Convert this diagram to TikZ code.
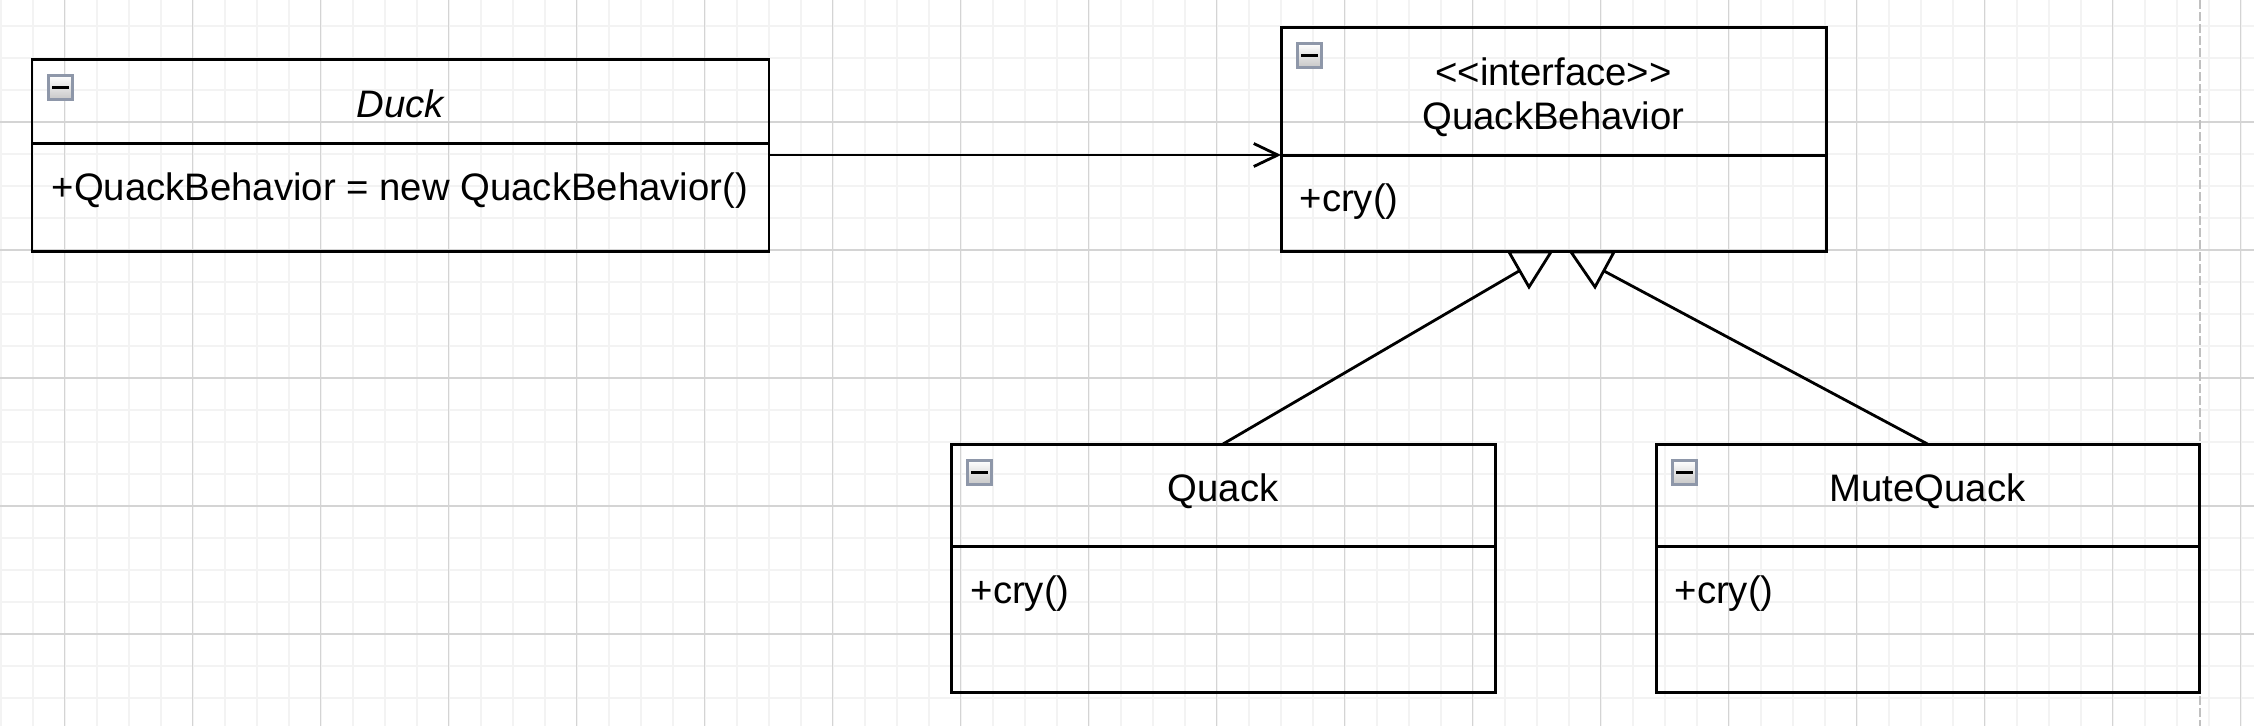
\documentclass[tikz,border=0pt]{standalone}
\usepackage{fontspec}
\setmainfont{Liberation Sans}
\usetikzlibrary{arrows.meta,calc}

\definecolor{gridminor}{HTML}{F3F3F3}
\definecolor{gridmajor}{HTML}{D4D4D4}
\definecolor{pagegray}{HTML}{C0C0C0}
\definecolor{foldgray}{HTML}{8E97A9}

\tikzset{
  minor/.style={draw=gridminor, line width=0.55pt},
  major/.style={draw=gridmajor, line width=0.35pt},
  page/.style={draw=pagegray, line width=0.55pt, dash pattern=on 0.85mm off 0.35mm},
  cls/.style={draw, line width=0.85pt, inner sep=0pt, outer sep=0pt},
  sep/.style={line width=0.85pt},
  title/.style={anchor=base, inner sep=0pt, font=\fontsize{10.9}{13}\selectfont},
  attr/.style={anchor=base west, inner sep=0pt, font=\fontsize{10.9}{13}\selectfont},
  fold/.style={draw=foldgray, line width=0.85pt, top color=white, bottom color=black!22,
    minimum size=2.4mm, inner sep=0pt},
  edge/.style={line width=0.8pt},
  assoc/.style={edge, -{Straight Barb[length=2.4mm, width=2.3mm]}},
  gen/.style={edge, fill=white, line join=miter}
}

\begin{document}
\begin{tikzpicture}[x=0.1mm, y=-0.1mm]
\useasboundingbox (0,0) rectangle (2254,726);

% canvas grid
\foreach \x in {0.7,32.7,...,2254} \draw[minor] (\x,0) -- (\x,726);
\foreach \y in {25.7,57.7,...,726} \draw[minor] (0,\y) -- (2254,\y);
\foreach \x in {64.7,192.7,...,2254} \draw[major] (\x,0) -- (\x,726);
\foreach \y in {122,250,...,726} \draw[major] (0,\y) -- (2254,\y);
\draw[page] (2200,0) -- (2200,726);

% classes
\node[cls, minimum width=73.7mm, minimum height=19.2mm] (duck) at (400.5,155) {};
\node[cls, minimum width=54.5mm, minimum height=22.4mm] (qb) at (1553.5,139) {};
\node[cls, minimum width=54.4mm, minimum height=24.8mm] (quack) at (1223,568) {};
\node[cls, minimum width=54.3mm, minimum height=24.8mm] (mute) at (1927.5,568) {};

\draw[sep] (duck.west |- 0,143) -- (duck.east |- 0,143);
\draw[sep] (qb.west |- 0,155) -- (qb.east |- 0,155);
\draw[sep] (quack.west |- 0,546) -- (quack.east |- 0,546);
\draw[sep] (mute.west |- 0,546) -- (mute.east |- 0,546);

\foreach \c in {duck,qb,quack,mute}
  \node[fold] at ($(\c.north west)+(28.5,28.5)$) {\rule{1.7mm}{0.3mm}};

\node[title] (duckname) at (400.5,117) {\itshape Duck};
\node[attr] (duckattr) at (51,200) {+QuackBehavior = new QuackBehavior()};
\node[title] (qbstereo) at (1553.5,85) {<{}<interface>{}>};
\node[title] (qbname) at (1553.5,129) {QuackBehavior};
\node[attr] (qbop) at (1299,211) {+cry()};
\node[title] (quackname) at (1223,501) {Quack};
\node[attr] (quackop) at (970,603) {+cry()};
\node[title] (mutename) at (1927.5,501) {MuteQuack};
\node[attr] (muteop) at (1674,603) {+cry()};

% association
\draw[assoc] (duck.east) -- (duck.east -| qb.west);

% generalisation
\draw[gen] ($(qb.south)+(-44.5,1)$) -- ++(42,0) -- ++(-22,35) -- cycle;
\draw[gen] ($(qb.south)+(17.5,1)$) -- ++(43,0) -- ++(-19,35) -- cycle;
\coordinate (h1) at ($(qb.south)+(-34.5,20)$);
\coordinate (h2) at ($(qb.south)+(50.5,20)$);
\draw[edge] (quack.north) -- (h1);
\draw[edge] (mute.north) -- (h2);
\end{tikzpicture}
\end{document}
